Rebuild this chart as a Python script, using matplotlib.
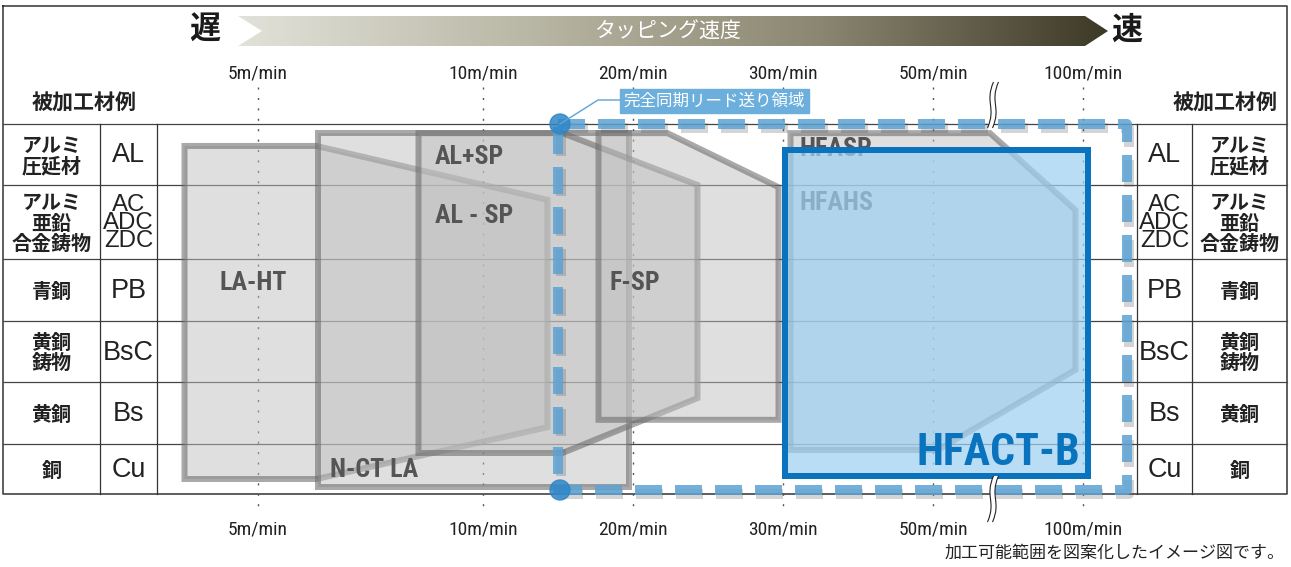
import numpy as np
import matplotlib
matplotlib.use("Agg")
import matplotlib.pyplot as plt
from matplotlib.patches import Polygon, Rectangle, Circle, PathPatch
from matplotlib.path import Path
from matplotlib.colors import LinearSegmentedColormap
from matplotlib import font_manager as fm
import matplotlib.patheffects as pe

# ------------------------------------------------------------------ data
speed_labels = ["5", "10", "20", "30", "50", "100"]
speed_unit = "m/min"
materials_jp = ["アルミ\n圧延材", "アルミ\n亜鉛\n合金鋳物", "青銅", "黄銅\n鋳物", "黄銅", "銅"]
materials_code = ["AL", "AC\nADC\nZDC", "PB", "BsC", "Bs", "Cu"]
header_title = "タッピング速度"
slow_label, fast_label = "遅", "速"
table_title = "被加工材例"
zone_label = "完全同期リード送り領域"
footnote = "加工可能範囲を図案化したイメージ図です。"

# product ranges: (speed-scale position, material-row position)
prod_names = ["LA-HT", "N-CT LA", "AL+SP / AL-SP", "F-SP", "HFASP / HFAHS"]
prod_shapes = [
    [(-0.49, 0.36), (0.39, 0.36), (1.93, 1.20), (1.93, 4.73), (0.39, 5.70), (-0.49, 5.70)],
    [(0.40, 0.15), (2.47, 0.15), (2.47, 5.86), (0.40, 5.86)],
    [(1.07, 0.15), (2.03, 0.15), (2.93, 1.00), (2.93, 4.26), (2.03, 5.18), (1.07, 5.18)],
    [(2.27, 0.15), (2.73, 0.15), (3.47, 1.03), (3.47, 4.61), (2.27, 4.61)],
    [(3.55, 0.15), (4.88, 0.15), (5.45, 1.34), (5.45, 3.80), (4.53, 5.12), (3.55, 5.12)],
]
hfact_shape = [(3.51, 0.43), (5.53, 0.43), (5.53, 5.64), (3.51, 5.64)]
sync_zone = [(2.0, 0.0), (5.79, 0.0), (5.79, 5.92), (2.0, 5.92)]

# shape labels: text, (u, r), alignment
shape_labels = [
    ("LA-HT", (-0.03, 2.39), "center"),
    ("N-CT LA", (0.48, 5.52), "left"),
    ("AL+SP", (1.18, 0.54), "left"),
    ("AL - SP", (1.18, 1.42), "left"),
    ("F-SP", (2.51, 2.39), "center"),
]
hidden_labels = [("HFASP", (3.61, 0.41)), ("HFAHS", (3.61, 1.24))]
hfact_label = ("HFACT-B", (5.48, 5.18))

# ------------------------------------------------------------------ layout
W, H = 1291, 567
tick_u = [0, 1.5, 2.5, 3.5, 4.5, 5.5]           # speed-scale positions of ticks
U0, UPX = 258, 150                                # pixel of u=0, pixels per unit
row_edges = [124, 185, 259, 321, 382, 444, 494]   # pixel rows
frame_l, frame_r, frame_t = 3, 1287, 6
col_left = [3, 100, 157]
col_right = [1137, 1192, 1287]
break_u = 4.88

def X(u):
    return U0 + UPX * np.asarray(u, dtype=float)

def Y(r):
    return np.interp(r, np.arange(len(row_edges)), row_edges)

def pts(shape):
    return [(X(u), Y(r)) for u, r in shape]

names = {f.name for f in fm.fontManager.ttflist}
COND = next((n for n in ["Liberation Sans Narrow", "Roboto Condensed", "Liberation Sans", "DejaVu Sans"] if n in names))
SANS = "Liberation Sans" if "Liberation Sans" in names else "DejaVu Sans"
JP = ["Noto Sans CJK JP", "DejaVu Sans"]

def px(v):
    return v * 0.72

fig = plt.figure(figsize=(W / 100, H / 100), dpi=100)
ax = fig.add_axes([0, 0, 1, 1])
ax.set_xlim(0, W)
ax.set_ylim(H, 0)
ax.axis("off")

# ------------------------------------------------------------------ header arrow
arrow = [(238, 16), (1085, 16), (1108, 31), (1085, 46), (238, 46), (262, 31)]
cmap = LinearSegmentedColormap.from_list("g", ["#e2e2da", "#b9b7a5", "#8b8772", "#3d3927"])
grad = np.linspace(0, 1, 512)[None, :]
im = ax.imshow(grad, cmap=cmap, extent=(238, 1108, 46, 16), aspect="auto", zorder=2)
clip = Polygon(arrow, closed=True, transform=ax.transData, facecolor="none", edgecolor="none")
ax.add_patch(clip)
im.set_clip_path(clip)
ax.set_xlim(0, W)
ax.set_ylim(H, 0)
ax.text(668, 32, header_title, color="white", fontsize=px(21), family=JP,
        ha="center", va="center", zorder=3)
ax.text(205, 30, slow_label, fontsize=px(31), family=JP, weight="bold",
        ha="center", va="center", color="#1a1a1a")
ax.text(1127, 30, fast_label, fontsize=px(31), family=JP, weight="bold",
        ha="center", va="center", color="#1a1a1a")

# ------------------------------------------------------------------ table frame
ax.plot([frame_l, frame_r, frame_r, frame_l, frame_l],
        [frame_t, frame_t, row_edges[-1], row_edges[-1], frame_t],
        color="#333333", lw=1.1, zorder=1)
for yy in row_edges[:-1]:
    ax.plot([frame_l, frame_r], [yy, yy], color="#444444", lw=0.9, zorder=1)
for xx in col_left[1:] + col_right[:-1]:
    ax.plot([xx, xx], [row_edges[0], row_edges[-1]], color="#333333", lw=0.9, zorder=1)

ax.text(84, 103, table_title, family=JP, fontsize=px(21), weight="bold",
        ha="center", va="center", color="#222222")
ax.text(1225, 103, table_title, family=JP, fontsize=px(21), weight="bold",
        ha="center", va="center", color="#222222")

for i, (jp, code) in enumerate(zip(materials_jp, materials_code)):
    yc = (row_edges[i] + row_edges[i + 1]) / 2
    ls = 0.95
    for xj, xc in (((col_left[0] + col_left[1]) / 2, (col_left[1] + col_left[2]) / 2),
                   ((col_right[1] + col_right[2]) / 2, (col_right[0] + col_right[1]) / 2)):
        ax.text(xj, yc + 1, jp, family=JP, fontsize=px(20), weight="bold",
                ha="center", va="center", linespacing=ls, color="#222222")
        if "\n" in code:
            ax.text(xc, yc + 1, code, family=SANS, fontsize=px(24), ha="center",
                    va="center", linespacing=0.78, color="#222222")
        else:
            ax.text(xc, yc + 1, code, family=SANS, fontsize=px(27), ha="center",
                    va="center", color="#222222")

# ------------------------------------------------------------------ speed ticks
for lab, u in zip(speed_labels, tick_u):
    xx = X(u)
    ax.plot([xx, xx], [87, 512], color="#555555", lw=1.0,
            linestyle=(0, (1.5, 6)), zorder=1.5)
    for yy in (73, 530):
        ax.text(xx, yy, lab + speed_unit, family=COND, fontsize=px(19.5),
                ha="center", va="center", color="#222222")

# ------------------------------------------------------------------ product shapes
for shape in prod_shapes:
    ax.add_patch(Polygon(pts(shape), closed=True,
                         facecolor=(0.75, 0.75, 0.75, 0.49),
                         edgecolor=(0.42, 0.42, 0.42, 0.58),
                         lw=px(6), joinstyle="miter", zorder=3))

label_style = dict(family=COND, weight="bold", fontsize=px(26), va="center", color="#555555")
for txt, (u, r), ha in shape_labels:
    ax.text(X(u), Y(r), txt, ha=ha, zorder=7, **label_style)
for txt, (u, r) in hidden_labels:
    ax.text(X(u), Y(r), txt, ha="left", zorder=4, **label_style)

# HFACT-B
ax.add_patch(Polygon(pts(hfact_shape), closed=True,
                     facecolor=(0.62, 0.82, 0.95, 0.72),
                     edgecolor="#0a73bd", lw=px(6), joinstyle="miter", zorder=8))
ax.text(X(hfact_label[1][0]), Y(hfact_label[1][1]), hfact_label[0], family=COND,
        weight="bold", fontsize=px(44), color="#0a73bd", ha="right", va="center", zorder=9)

# ------------------------------------------------------------------ sync-feed zone
zp = pts(sync_zone)
zx = [p[0] for p in zp] + [zp[0][0]]
zy = [p[1] for p in zp] + [zp[0][1]]
ax.plot(zx, zy, color="#5da3d5", alpha=0.85, lw=px(10), linestyle=(0, (2.7, 1.3)),
        solid_capstyle="butt", dash_capstyle="butt", zorder=10,
        path_effects=[pe.SimpleLineShadow(offset=(2, -3), shadow_color="#555555", alpha=0.25),
                      pe.Normal()])
for (cx, cy) in (zp[0], zp[3]):
    ax.add_patch(Circle((cx + 2, cy), 10, color="#2f86c8", alpha=0.85, zorder=11))
cx, cy = zp[0]
ax.plot([cx + 2, cx + 40, 620], [cy, 100, 100], color="#5da3d5", lw=1.0, zorder=11)
ax.add_patch(Rectangle((620, 89), 189, 24, color="#6cafdc", zorder=11))
ax.text(714.5, 101.5, zone_label, family=JP, fontsize=px(16.5), color="white",
        ha="center", va="center", zorder=12)

# ------------------------------------------------------------------ axis break marks
def break_mark(x0, y0, y1):
    h = y1 - y0
    def s(dx):
        return [(x0 + dx + 3, y0), (x0 + dx - 6, y0 + 0.45 * h),
                (x0 + dx + 6, y0 + 0.55 * h), (x0 + dx - 3, y1)]
    a, b = s(-2.5), s(2.5)
    verts = a + b[::-1] + [a[0]]
    codes = [Path.MOVETO, Path.CURVE4, Path.CURVE4, Path.CURVE4,
             Path.LINETO, Path.CURVE4, Path.CURVE4, Path.CURVE4, Path.CLOSEPOLY]
    ax.add_patch(PathPatch(Path(verts, codes), facecolor="white", edgecolor="none", zorder=13))
    for c in (a, b):
        ax.add_patch(PathPatch(Path(c, [Path.MOVETO, Path.CURVE4, Path.CURVE4, Path.CURVE4]),
                               facecolor="none", edgecolor="#222222", lw=0.8, zorder=14))

bx = float(X(break_u)) + 3
break_mark(bx, 82, 128)
break_mark(bx, 476, 522)

ax.text(1285, 553, footnote, family=JP, fontsize=px(17), ha="right", va="center",
        color="#222222")

fig.savefig("out.png", dpi=100)
